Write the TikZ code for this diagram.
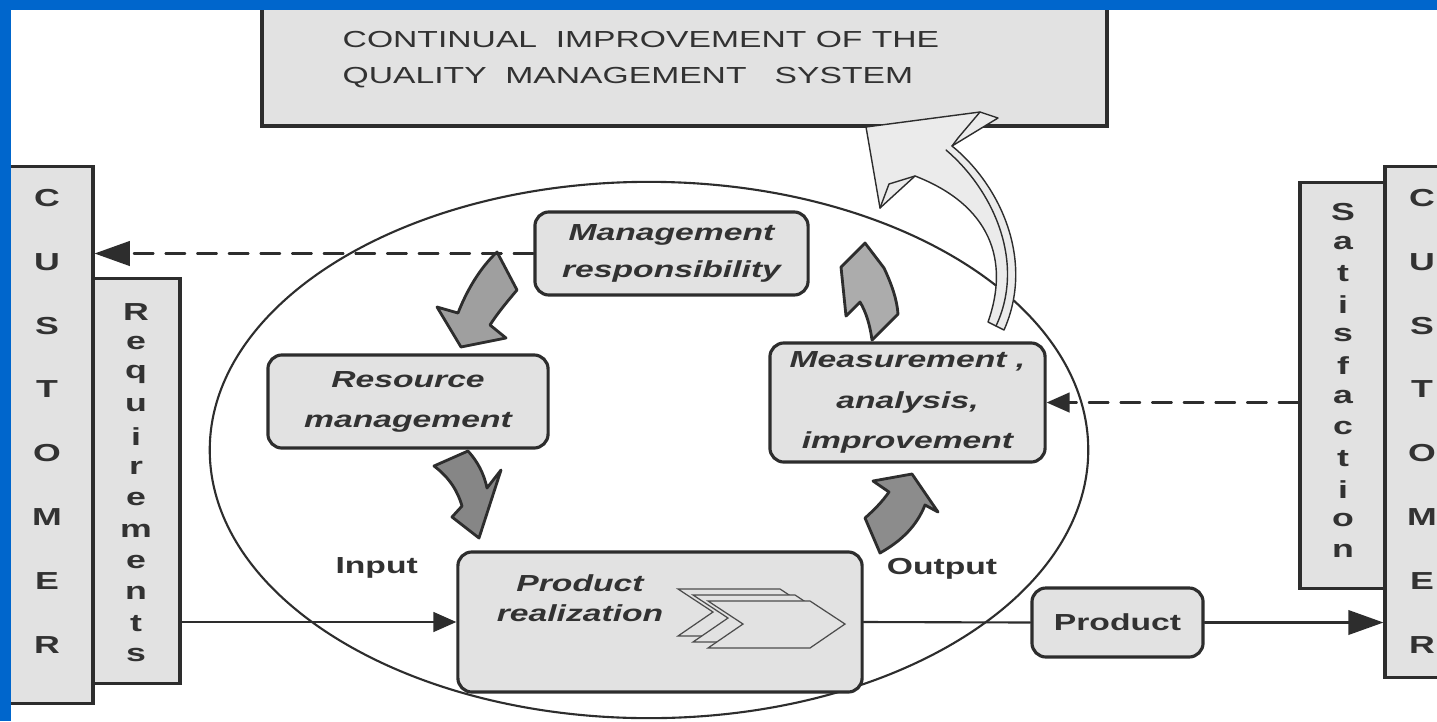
\documentclass[tikz,border=0pt]{standalone}
\usepackage{fontspec}
\usepackage{tikz}
\usetikzlibrary{arrows.meta}
\newfontfamily\qmsfont{Liberation Sans}[FakeStretch=1.45]
\definecolor{qmsblue}{RGB}{0,102,204}
\definecolor{boxgray}{RGB}{226,226,226}
\definecolor{linegray}{RGB}{45,45,45}
\definecolor{txtgray}{RGB}{50,50,50}
\tikzset{
  qbox/.style={draw=linegray,line width=0.9pt,fill=boxgray,rounded corners=4pt,inner sep=0pt,
    align=center,text=txtgray,font=\qmsfont\fontsize{6.6}{11.4}\selectfont\bfseries\itshape},
  sidebox/.style={draw=linegray,line width=0.9pt,fill=boxgray,inner sep=0pt},
  letter/.style={text=txtgray,font=\qmsfont\fontsize{7}{8}\selectfont\bfseries,inner sep=0pt},
  flowlbl/.style={text=txtgray,font=\qmsfont\fontsize{6.6}{8}\selectfont\bfseries,inner sep=0pt},
  flow/.style={draw=linegray,line width=0.6pt},
  feedback/.style={flow,dash pattern=on 5.6pt off 3.4pt},
  cyclearrow/.style={draw=linegray,line width=0.8pt,line join=round},
  bigarrow/.style={draw=linegray,line width=0.4pt,fill=boxgray!70!white,line join=round},
  chevron/.style={draw=gray!60!black,line width=0.35pt,fill=boxgray}
}
\begin{document}
\begin{tikzpicture}[x=0.01cm,y=-0.01cm,>={Triangle[length=6.5pt,width=5.6pt]},line cap=round]
\useasboundingbox (0,0) rectangle (1437,721);
\fill[white] (0,0) rectangle (1437,721);
\draw[linegray,line width=0.6pt] (649,450) ellipse [x radius=4.39cm,y radius=2.68cm];

\node[sidebox,minimum width=0.88cm,minimum height=5.36cm] (custL) at (49,435) {};
\node[sidebox,minimum width=0.87cm,minimum height=4.04cm] (req) at (136.5,481) {};
\node[sidebox,minimum width=0.95cm,minimum height=5.10cm] (custR) at (1432.5,422) {};
\node[sidebox,minimum width=0.85cm,minimum height=4.05cm] (satis) at (1342.5,385.5) {};
\foreach \l [count=\i] in {C,U,S,T,O,M,E,R} {
  \node[letter] (cl\i) at (47,198+63.8*\i-63.8) {\l};
  \node[letter] (cr\i) at (1422,198+63.8*\i-63.8) {\l};
}
\foreach \l [count=\i] in {R,e,q,u,i,r,e,m,e,n,t,s}
  \node[letter] (rq\i) at (136,312+31.2*\i-31.2) {\l};
\foreach \l [count=\i] in {S,a,t,i,s,f,a,c,t,i,o,n}
  \node[letter] (sf\i) at (1343,212+30.8*\i-30.8) {\l};

\node[qbox,minimum width=2.73cm,minimum height=0.83cm,font=\qmsfont\fontsize{6.6}{10.5}\selectfont\bfseries\itshape] (mgmt) at (671.5,253.5) {Management\\responsibility};
\node[qbox,minimum width=2.80cm,minimum height=0.93cm] (res) at (408,401.5) {Resource\\management};
\node[qbox,minimum width=2.75cm,minimum height=1.19cm] (meas) at (907.5,402.5) {Measurement\ ,\\analysis,\\improvement};
\node[qbox,minimum width=4.04cm,minimum height=1.40cm] (prodreal) at (660,622) {};
\node[qbox,font=\qmsfont\fontsize{6.6}{8.5}\selectfont\bfseries\itshape,draw=none,fill=none] (prtxt) at (580,598) {Product\\realization};
\foreach \s in {0,1,2}
  \filldraw[chevron,shift={(15*\s,6*\s)}] (678,589) -- (780,589) -- (815,612) -- (780,636) -- (678,636) -- (713,612) -- cycle;
\node[qbox,minimum width=1.71cm,minimum height=0.69cm,font=\qmsfont\fontsize{6.6}{8}\selectfont\bfseries] (prod) at (1117.5,622.5) {Product};

\filldraw[cyclearrow,fill=gray!75] (497,252) -- (517,290) .. controls (506,303) and (497,314) .. (490,325)
  -- (506,338) -- (461,347) -- (437,307) -- (458,313) .. controls (467,290) and (480,268) .. cycle;
\filldraw[cyclearrow,fill=gray!95] (434,466) -- (468,451) .. controls (478,462) and (484,474) .. (487,488)
  -- (501,470) -- (479,538) -- (452,517) -- (462,506) .. controls (458,492) and (450,478) .. cycle;
\filldraw[cyclearrow,fill=gray!90] (865,518) -- (880,553) .. controls (903,540) and (917,525) .. (925,505)
  -- (938,512) -- (912,474) -- (873,481) -- (889,492) .. controls (882,502) and (874,510) .. cycle;
\filldraw[cyclearrow,fill=gray!65] (865,243) -- (884,268) .. controls (892,285) and (897,300) .. (898,314)
  -- (872,340) .. controls (870,325) and (866,312) .. (860,302) -- (846,316) -- (841,267) -- cycle;

\draw[flow,->] (req.east |- prodreal.west) -- (prodreal.west) node[flowlbl,pos=0.71,above=12pt] (inlbl) {Input};
\draw[flow] (prodreal.east) -- (prod.west) node[flowlbl,pos=0.47,above=12pt] (outlbl) {Output};
\draw[flow,-{Triangle[length=10pt,width=7pt]}] (prod.east) -- (custR.west |- prod.east);
\draw[feedback,-{Triangle[length=10pt,width=7pt]}] (mgmt.west) -- (custL.east |- mgmt.west);
\draw[feedback,->] (satis.west |- meas.east) -- (meas.east);

\node[draw=linegray,line width=1.1pt,fill=boxgray,minimum width=8.45cm,minimum height=1.21cm] (cim) at (684.5,65.5) {};
\node[anchor=west,align=left,inner sep=0pt,text=txtgray,font=\qmsfont\fontsize{6.6}{10.2}\selectfont] (cimtxt) at (342,60)
  {CONTINUAL\ \ IMPROVEMENT OF THE\\QUALITY\ \ MANAGEMENT\ \ \ SYSTEM};

\filldraw[bigarrow] (866,127) -- (980,112) -- (998,118) -- (952,146)
  .. controls (1000,185) and (1035,260) .. (1004,330) -- (988,322)
  .. controls (1010,260) and (990,205) .. (915,176) -- (880,208) -- cycle;
\draw[linegray,line width=0.4pt] (946,150) .. controls (993,190) and (1026,262) .. (996,326);
\draw[linegray,line width=0.4pt] (880,208) -- (889,184) -- (915,176);
\draw[linegray,line width=0.4pt] (980,112) -- (958,138) -- (952,146);

\fill[qmsblue] (0,0) rectangle (1437,10);
\fill[qmsblue] (0,0) rectangle (11,721);
\end{tikzpicture}
\end{document}
